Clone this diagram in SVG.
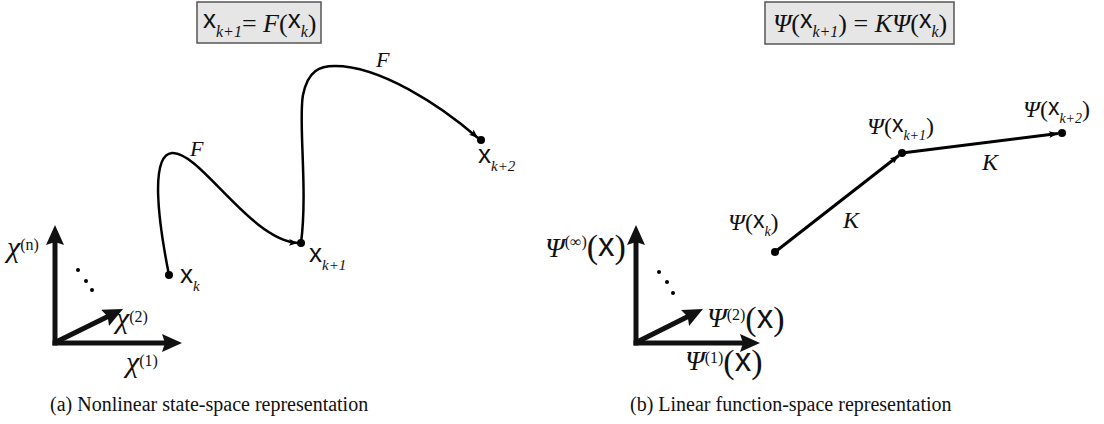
<svg xmlns="http://www.w3.org/2000/svg" width="1104" height="424" viewBox="0 0 1104 424">
<style>
.rm{font-family:"Liberation Serif",serif;font-style:normal}
.it{font-family:"Liberation Serif",serif;font-style:italic}
.sx{font-family:"Liberation Sans",sans-serif;font-style:normal}
.box{fill:#e6e6e6;stroke:#555;stroke-width:1.5}
.axis{stroke:#111;stroke-width:5;fill:none;marker-end:url(#bigArrow)}
.curve{stroke:#000;stroke-width:2.5;fill:none;marker-end:url(#smallArrow)}
.lin{stroke:#000;stroke-width:3;fill:none;marker-end:url(#smallArrow)}
.dot{fill:#000}
text{fill:#111}
</style>
<defs>
<marker id="bigArrow" markerUnits="userSpaceOnUse" markerWidth="22" markerHeight="20" refX="10" refY="9" orient="auto" viewBox="0 0 22 20">
<path d="M0,0 L20,9 L0,18 L3,9 z" fill="#111"/>
</marker>
<marker id="smallArrow" markerUnits="userSpaceOnUse" markerWidth="10" markerHeight="8" refX="9" refY="3.5" orient="auto" viewBox="0 0 10 8">
<path d="M0,0 L9,3.5 L0,7 L2,3.5 z" fill="#000"/>
</marker>
</defs>

<g id="eq-left">
<rect class="box" x="197" y="2" width="124" height="41"/>
<text font-size="26"><tspan class="sx" x="203" y="28" font-size="26">x</tspan><tspan class="it" y="37" font-size="16">k+1</tspan><tspan class="rm" y="32">= </tspan><tspan class="it" y="32">F</tspan><tspan class="rm" y="32">(</tspan><tspan class="sx" y="28" font-size="26">x</tspan><tspan class="it" y="37" font-size="16">k</tspan><tspan class="rm" y="32">)</tspan></text>
</g>

<g id="eq-right">
<rect class="box" x="765" y="2" width="189" height="42"/>
<text font-size="26"><tspan class="it" x="773" y="32">Ψ</tspan><tspan class="rm" y="32">(</tspan><tspan class="sx" y="28" font-size="25">x</tspan><tspan class="it" y="37" font-size="16">k+1</tspan><tspan class="rm" y="32">) = </tspan><tspan class="it" y="32">KΨ</tspan><tspan class="rm" y="32">(</tspan><tspan class="sx" y="28" font-size="25">x</tspan><tspan class="it" y="37" font-size="16">k</tspan><tspan class="rm" y="32">)</tspan></text>
</g>

<g id="axes-left">
<line class="axis" x1="55" y1="345.5" x2="55" y2="235"/>
<line class="axis" x1="52.5" y1="343" x2="172" y2="343"/>
<line class="axis" x1="56" y1="342" x2="114" y2="313.5"/>
<circle class="dot" cx="78" cy="270" r="2"/>
<circle class="dot" cx="86" cy="281" r="2"/>
<circle class="dot" cx="92" cy="290" r="2"/>
<text><tspan class="it" x="7" y="257" font-size="30">χ</tspan><tspan class="rm" y="250" font-size="16">(n)</tspan></text>
<text><tspan class="it" x="116" y="328" font-size="30">χ</tspan><tspan class="rm" y="322" font-size="16">(2)</tspan></text>
<text><tspan class="it" x="126" y="372" font-size="30">χ</tspan><tspan class="rm" y="366" font-size="16">(1)</tspan></text>
</g>

<g id="axes-right">
<line class="axis" x1="636" y1="345.5" x2="636" y2="235"/>
<line class="axis" x1="633.5" y1="343" x2="750" y2="343"/>
<line class="axis" x1="637" y1="342" x2="694" y2="313.5"/>
<circle class="dot" cx="659" cy="272" r="2"/>
<circle class="dot" cx="667" cy="282" r="2"/>
<circle class="dot" cx="673" cy="293" r="2"/>
<text><tspan class="it" x="545" y="257" font-size="28">Ψ</tspan><tspan class="rm" y="247" font-size="16">(∞)</tspan><tspan class="rm" y="258" font-size="34">(</tspan><tspan class="sx" y="256" font-size="33">x</tspan><tspan class="rm" y="258" font-size="34">)</tspan></text>
<text><tspan class="it" x="707" y="327" font-size="28">Ψ</tspan><tspan class="rm" y="320" font-size="16">(2)</tspan><tspan class="rm" y="330" font-size="34">(</tspan><tspan class="sx" y="328" font-size="33">x</tspan><tspan class="rm" y="330" font-size="34">)</tspan></text>
<text><tspan class="it" x="685" y="370" font-size="28">Ψ</tspan><tspan class="rm" y="363" font-size="16">(1)</tspan><tspan class="rm" y="373" font-size="34">(</tspan><tspan class="sx" y="371" font-size="33">x</tspan><tspan class="rm" y="373" font-size="34">)</tspan></text>
</g>

<g id="connectors">
<path class="curve" d="M169,275 C158,220 150,155 172,153 C200,151 250,240 298,243"/>
<path class="curve" d="M301,243 C308,190 298,120 303,95 C308,70 320,66 335,66 C380,66 440,105 478,138"/>
<line class="lin" x1="775" y1="252" x2="898.8" y2="155.5"/>
<line class="lin" x1="902" y1="153" x2="1058" y2="133.5"/>
<text class="it" x="190" y="156" font-size="22">F</text>
<text class="it" x="376" y="67" font-size="22">F</text>
<text class="it" x="843" y="228" font-size="24">K</text>
<text class="it" x="982" y="170" font-size="24">K</text>
</g>

<g id="node-xk">
<circle class="dot" cx="169" cy="275" r="4"/>
<text><tspan class="sx" x="180" y="283" font-size="26">x</tspan><tspan class="it" y="291" font-size="15">k</tspan></text>
</g>
<g id="node-xk1">
<circle class="dot" cx="301" cy="243" r="4"/>
<text><tspan class="sx" x="309" y="262" font-size="26">x</tspan><tspan class="it" y="270" font-size="15">k+1</tspan></text>
</g>
<g id="node-xk2">
<circle class="dot" cx="481" cy="140" r="4"/>
<text><tspan class="sx" x="478" y="163" font-size="26">x</tspan><tspan class="it" y="171" font-size="15">k+2</tspan></text>
</g>

<g id="node-psik">
<circle class="dot" cx="775" cy="252" r="4"/>
<text font-size="24"><tspan class="it" x="728" y="230">Ψ</tspan><tspan class="rm" y="230">(</tspan><tspan class="sx" y="228" font-size="23">x</tspan><tspan class="it" y="236" font-size="14">k</tspan><tspan class="rm" y="230">)</tspan></text>
</g>
<g id="node-psik1">
<circle class="dot" cx="902" cy="153" r="4"/>
<text font-size="24"><tspan class="it" x="867" y="134">Ψ</tspan><tspan class="rm" y="134">(</tspan><tspan class="sx" y="132" font-size="23">x</tspan><tspan class="it" y="140" font-size="14">k+1</tspan><tspan class="rm" y="134">)</tspan></text>
</g>
<g id="node-psik2">
<circle class="dot" cx="1062" cy="133" r="4"/>
<text font-size="24"><tspan class="it" x="1023" y="117">Ψ</tspan><tspan class="rm" y="117">(</tspan><tspan class="sx" y="115" font-size="23">x</tspan><tspan class="it" y="123" font-size="14">k+2</tspan><tspan class="rm" y="117">)</tspan></text>
</g>

<g id="captions">
<text class="rm" x="50" y="411" font-size="20">(a) Nonlinear state-space representation</text>
<text class="rm" x="630" y="411" font-size="20">(b) Linear function-space representation</text>
</g>
</svg>
